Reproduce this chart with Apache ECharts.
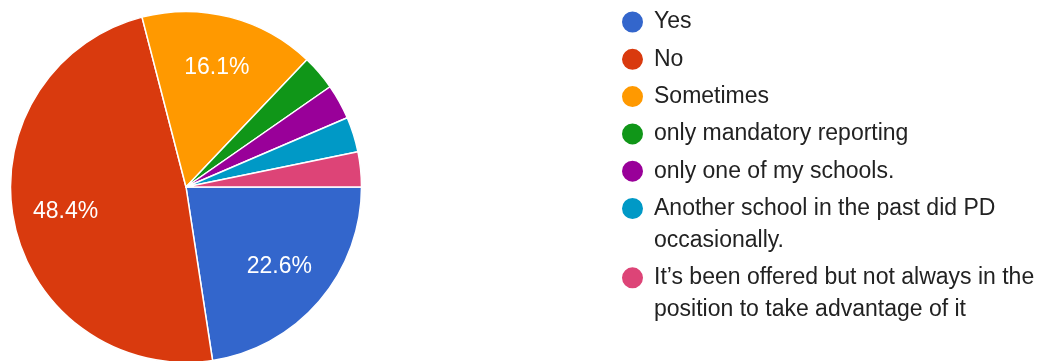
<!DOCTYPE html>
<html>
<head>
<meta charset="utf-8">
<script src="https://cdn.jsdelivr.net/npm/echarts@6/dist/echarts.min.js"></script>
<style>
  html, body { margin: 0; padding: 0; background: #fff; }
  #chart { width: 1056px; height: 361px; }
</style>
</head>
<body>
<div id="chart"></div>
<script>
// Survey answers and response counts
const categories = [
  'Yes',
  'No',
  'Sometimes',
  'only mandatory reporting',
  'only one of my schools.',
  'Another school in the past did PD occasionally.',
  'It\u2019s been offered but not always in the position to take advantage of it'
];
const responses = [7, 15, 5, 1, 1, 1, 1];
const sliceColors = ['#3366cc', '#d93a0e', '#ff9900', '#109618', '#990099', '#0099c6', '#dd4477'];

const FONT = '"Liberation Sans", Arial, Helvetica, sans-serif';
const LEGEND_FONT_SIZE = 23;
const LEGEND_LINE = 32;
const LEGEND_WRAP = 400;
const LEGEND_LEFT = 620;
const LEGEND_FIRST_Y = 22;   // centre of the first marker
const LEGEND_STEP = 37.3;    // marker-to-marker distance for one-line entries
const MARKER = 23;
const PIE_CENTER = [186, 187];
const PIE_R = 175.5;
const LABEL_R = 120;

// Greedy word wrap of legend text to the available width.
const measureCtx = document.createElement('canvas').getContext('2d');
measureCtx.font = LEGEND_FONT_SIZE + 'px ' + FONT;
function wrapText(text) {
  const lines = [];
  let line = '';
  text.split(' ').forEach(word => {
    const trial = line ? line + ' ' + word : word;
    if (line && measureCtx.measureText(trial).width > LEGEND_WRAP) {
      lines.push(line);
      line = word;
    } else {
      line = trial;
    }
  });
  lines.push(line);
  return lines;
}

// One legend block per entry. The text block is centred on its marker, so
// blank lines are put above a wrapped entry to keep the marker beside line one.
const legends = [];
let markerY = LEGEND_FIRST_Y;
categories.forEach(name => {
  const lines = wrapText(name);
  const n = lines.length;
  const shown = '\n'.repeat(n - 1) + lines.join('\n');
  legends.push({
    orient: 'vertical',
    left: LEGEND_LEFT,
    top: markerY - Math.max((2 * n - 1) * LEGEND_LINE / 2, MARKER / 2),
    padding: 0,
    icon: 'circle',
    itemWidth: MARKER,
    itemHeight: MARKER,
    selectedMode: false,
    formatter: () => shown,
    textStyle: {
      fontFamily: FONT,
      fontSize: LEGEND_FONT_SIZE,
      color: '#222222',
      lineHeight: LEGEND_LINE,
      padding: [0, 0, 0, 5]
    },
    data: [name]
  });
  markerY += (n - 1) * LEGEND_LINE + LEGEND_STEP;
});

const chart = echarts.init(document.getElementById('chart'), null, { renderer: 'canvas' });
chart.setOption({
  animation: false,
  backgroundColor: '#ffffff',
  legend: legends,
  series: [
    {
      type: 'pie',
      name: 'answers',
      center: PIE_CENTER,
      radius: PIE_R,
      startAngle: 0,
      clockwise: true,
      avoidLabelOverlap: false,
      itemStyle: { borderColor: '#ffffff', borderWidth: 1.5 },
      label: { show: false },
      labelLine: { show: false },
      emphasis: { disabled: true },
      data: categories.map((name, i) => ({
        name,
        value: responses[i],
        itemStyle: { color: sliceColors[i] }
      }))
    },
    {
      // transparent ring that only carries the percentage labels
      type: 'pie',
      name: 'percentages',
      center: PIE_CENTER,
      radius: [2 * LABEL_R - PIE_R, PIE_R],
      startAngle: 0,
      clockwise: true,
      silent: true,
      avoidLabelOverlap: false,
      itemStyle: { color: 'rgba(0,0,0,0)', borderWidth: 0 },
      label: {
        show: true,
        position: 'inside',
        color: '#ffffff',
        fontFamily: FONT,
        fontSize: 23,
        formatter: p => (p.percent >= 5 ? p.percent.toFixed(1) + '%' : '')
      },
      labelLine: { show: false },
      emphasis: { disabled: true },
      data: categories.map((name, i) => ({ name, value: responses[i] }))
    }
  ]
});
</script>
</body>
</html>
